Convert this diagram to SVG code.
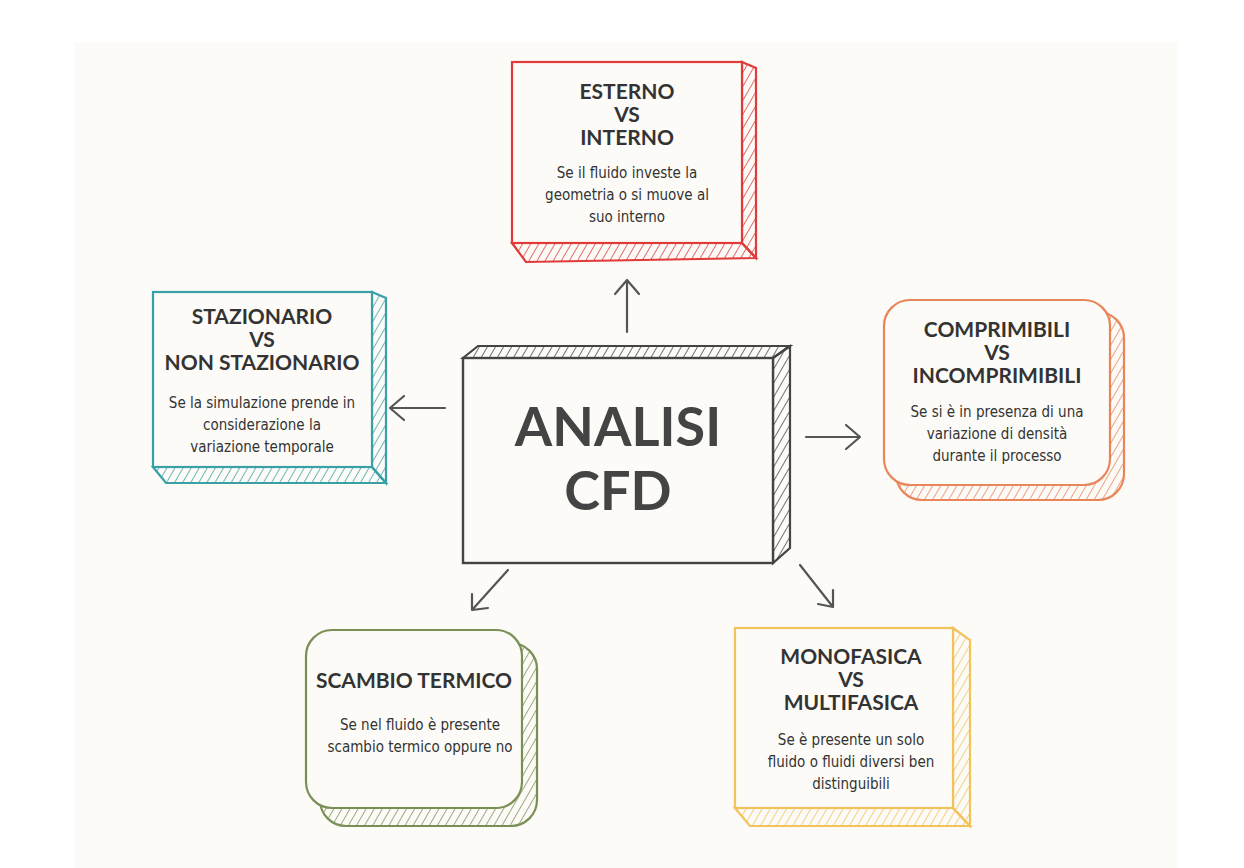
<svg xmlns="http://www.w3.org/2000/svg" width="1244" height="868" viewBox="0 0 1244 868">
<style>
.t{font-family:"Lato","Liberation Sans",sans-serif;font-weight:700;font-size:21px;text-anchor:middle;fill:#333}
.b{font-family:"DejaVu Sans",sans-serif;font-stretch:condensed;font-size:15px;text-anchor:middle;fill:#333}
.c{fill:none;stroke-width:2.2;stroke-linejoin:round}
.a{fill:none;stroke:#555;stroke-width:2.2;stroke-linecap:round;stroke-linejoin:round}
</style>
<defs>
<pattern id="hr" width="7" height="7" patternUnits="userSpaceOnUse" patternTransform="rotate(30)"><line x1="0" y1="0" x2="0" y2="7" stroke="#e03a3a" stroke-width="1.5"/></pattern>
<pattern id="ht" width="7" height="7" patternUnits="userSpaceOnUse" patternTransform="rotate(30)"><line x1="0" y1="0" x2="0" y2="7" stroke="#3aa0a8" stroke-width="1.5"/></pattern>
<pattern id="ho" width="7" height="7" patternUnits="userSpaceOnUse" patternTransform="rotate(30)"><line x1="0" y1="0" x2="0" y2="7" stroke="#e8855a" stroke-width="1.5"/></pattern>
<pattern id="hg" width="7" height="7" patternUnits="userSpaceOnUse" patternTransform="rotate(30)"><line x1="0" y1="0" x2="0" y2="7" stroke="#7a8f55" stroke-width="1.5"/></pattern>
<pattern id="hy" width="7" height="7" patternUnits="userSpaceOnUse" patternTransform="rotate(30)"><line x1="0" y1="0" x2="0" y2="7" stroke="#f2c35a" stroke-width="1.5"/></pattern>
<pattern id="hk" width="7" height="7" patternUnits="userSpaceOnUse" patternTransform="rotate(30)"><line x1="0" y1="0" x2="0" y2="7" stroke="#444" stroke-width="1.5"/></pattern>
</defs>
<rect width="1244" height="868" fill="#fff"/>
<rect x="75" y="42" width="1103" height="826" fill="#fcfbf7"/>

<g id="connectors">
<path class="a" d="M627 332 L627 280 M615 294 L627 280 L639 294"/>
<path class="a" d="M445 408 L390 408 M404 396 L390 408 L404 420"/>
<path class="a" d="M806 437 L860 437 M846 425 L860 437 L846 449"/>
<path class="a" d="M508 570 L472 610 M472 594 L472 610 L488 608"/>
<path class="a" d="M800 565 L833 607 M818 604 L833 607 L833 590"/>
</g>

<g id="center">
<path d="M463 358 L478 346 L790 346 L773 358 Z" fill="url(#hk)" stroke="#444" stroke-width="2.2"/>
<path d="M773 358 L790 346 L790 548 L773 563 Z" fill="url(#hk)" stroke="#444" stroke-width="2.2"/>
<rect x="463" y="358" width="310" height="205" fill="#fcfbf7" stroke="#444" stroke-width="2.4"/>
<text x="618" y="446" style="font-family:'Lato','Liberation Sans',sans-serif;font-weight:700;font-size:54px;text-anchor:middle;fill:#444">ANALISI</text>
<text x="618" y="510" style="font-family:'Lato','Liberation Sans',sans-serif;font-weight:700;font-size:54px;text-anchor:middle;fill:#444">CFD</text>
</g>

<g id="esterno">
<path d="M742 62 L756 68 L756 258 L742 243 Z" fill="url(#hr)" stroke="#e03a3a" stroke-width="2.2"/>
<path d="M512 243 L742 243 L756 258 L526 262 Z" fill="url(#hr)" stroke="#e03a3a" stroke-width="2.2"/>
<rect x="512" y="62" width="230" height="181" fill="#fcfbf7" stroke="#e03a3a" stroke-width="2.2"/>
<text class="t" x="627" y="99">ESTERNO</text>
<text class="t" x="627" y="122">VS</text>
<text class="t" x="627" y="145">INTERNO</text>
<text class="b" x="627" y="178">Se il fluido investe la</text>
<text class="b" x="627" y="200">geometria o si muove al</text>
<text class="b" x="627" y="222">suo interno</text>
</g>

<g id="stazionario">
<path d="M372 292 L386 298 L386 483 L372 467 Z" fill="url(#ht)" stroke="#3aa0a8" stroke-width="2.2"/>
<path d="M153 467 L372 467 L386 483 L166 483 Z" fill="url(#ht)" stroke="#3aa0a8" stroke-width="2.2"/>
<rect x="153" y="292" width="219" height="175" fill="#fcfbf7" stroke="#3aa0a8" stroke-width="2.2"/>
<text class="t" x="262" y="324">STAZIONARIO</text>
<text class="t" x="262" y="347">VS</text>
<text class="t" x="262" y="370">NON STAZIONARIO</text>
<text class="b" x="262" y="408">Se la simulazione prende in</text>
<text class="b" x="262" y="430">considerazione la</text>
<text class="b" x="262" y="452">variazione temporale</text>
</g>

<g id="comprimibili">
<rect x="896" y="312" width="228" height="188" rx="26" fill="url(#ho)" stroke="#e8855a" stroke-width="2.2"/>
<rect x="884" y="300" width="226" height="185" rx="26" fill="#fcfbf7" stroke="#e8855a" stroke-width="2.2"/>
<text class="t" x="997" y="337">COMPRIMIBILI</text>
<text class="t" x="997" y="360">VS</text>
<text class="t" x="997" y="383">INCOMPRIMIBILI</text>
<text class="b" x="997" y="417">Se si è in presenza di una</text>
<text class="b" x="997" y="439">variazione di densità</text>
<text class="b" x="997" y="461">durante il processo</text>
</g>

<g id="scambio">
<rect x="320" y="643" width="217" height="183" rx="26" fill="url(#hg)" stroke="#7a8f55" stroke-width="2.2"/>
<rect x="306" y="630" width="216" height="178" rx="26" fill="#fcfbf7" stroke="#7a8f55" stroke-width="2.2"/>
<text class="t" x="414" y="688">SCAMBIO TERMICO</text>
<text class="b" x="420" y="730">Se nel fluido è presente</text>
<text class="b" x="420" y="752">scambio termico oppure no</text>
</g>

<g id="monofasica">
<path d="M953 628 L970 640 L970 826 L953 808 Z" fill="url(#hy)" stroke="#f2c35a" stroke-width="2.2"/>
<path d="M735 808 L953 808 L970 826 L750 826 Z" fill="url(#hy)" stroke="#f2c35a" stroke-width="2.2"/>
<rect x="735" y="628" width="218" height="180" fill="#fcfbf7" stroke="#f2c35a" stroke-width="2.2"/>
<text class="t" x="851" y="664">MONOFASICA</text>
<text class="t" x="851" y="687">VS</text>
<text class="t" x="851" y="710">MULTIFASICA</text>
<text class="b" x="851" y="745">Se è presente un solo</text>
<text class="b" x="851" y="767">fluido o fluidi diversi ben</text>
<text class="b" x="851" y="789">distinguibili</text>
</g>
</svg>
